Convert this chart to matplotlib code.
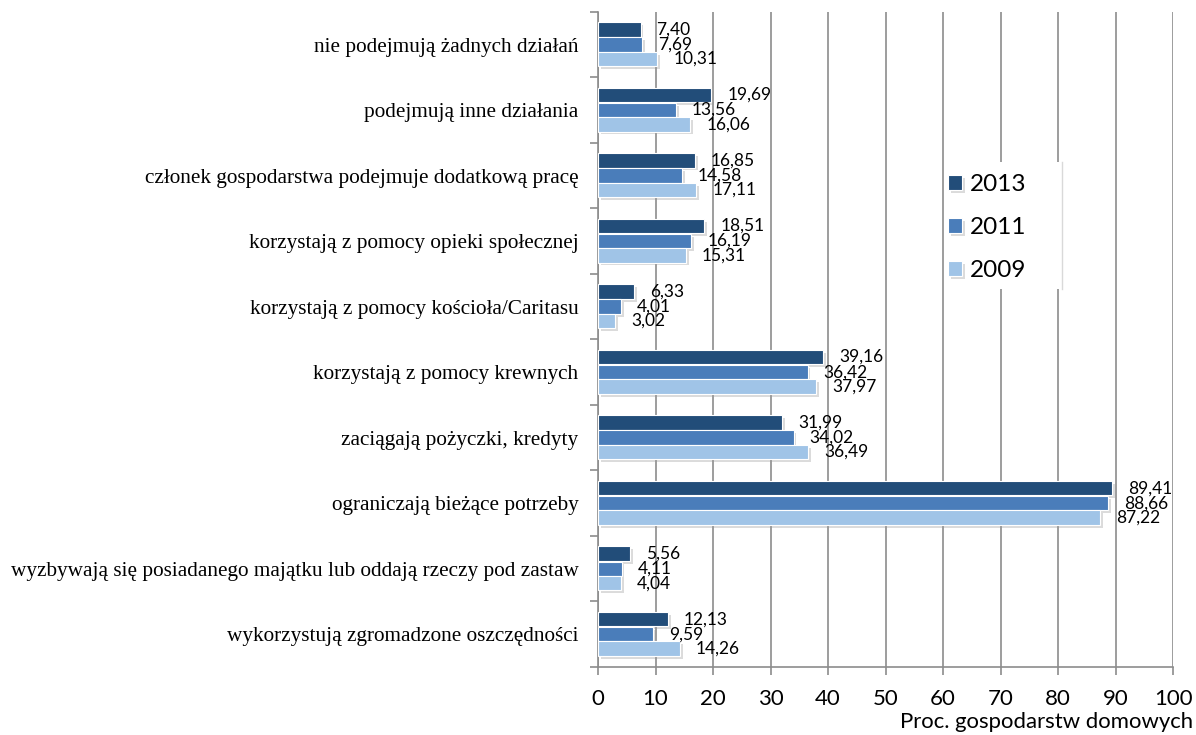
import matplotlib
matplotlib.use("Agg")
import matplotlib.pyplot as plt
import matplotlib.patheffects as pe
from matplotlib.patches import Rectangle
import numpy as np

categories = [
    "nie podejmują żadnych działań",
    "podejmują inne działania",
    "członek gospodarstwa podejmuje dodatkową pracę",
    "korzystają z pomocy opieki społecznej",
    "korzystają z pomocy kościoła/Caritasu",
    "korzystają z pomocy krewnych",
    "zaciągają pożyczki, kredyty",
    "ograniczają bieżące potrzeby",
    "wyzbywają się posiadanego majątku lub oddają rzeczy pod zastaw",
    "wykorzystują zgromadzone oszczędności",
]
series_names = ["2013", "2011", "2009"]
v2013 = [7.40, 19.69, 16.85, 18.51, 6.33, 39.16, 31.99, 89.41, 5.56, 12.13]
v2011 = [7.69, 13.56, 14.58, 16.19, 4.01, 36.42, 34.02, 88.66, 4.11, 9.59]
v2009 = [10.31, 16.06, 17.11, 15.31, 3.02, 37.97, 36.49, 87.22, 4.04, 14.26]
xticks = [0, 10, 20, 30, 40, 50, 60, 70, 80, 90, 100]
xlabel = "Proc. gospodarstw domowych"

colors = ["#224d79", "#4a7dba", "#a0c4e7"]
series = [v2013, v2011, v2009]

fig = plt.figure(figsize=(11.96, 7.35), dpi=100)
ax = fig.add_axes([0.5, 0.0925, 0.481, 0.8915])

y = np.arange(len(categories))
h = 0.22
offsets = [-0.23, 0.0, 0.22]
shadow = [pe.SimplePatchShadow(offset=(2, -2), shadow_rgbFace="#999999", alpha=0.35), pe.Normal()]
for s, (vals, off, col, name) in enumerate(zip(series, offsets, colors, series_names)):
    bars = ax.barh(y + off, vals, height=h, color=col, edgecolor="white", linewidth=0.8,
                   label=name, zorder=3)
    for b in bars:
        b.set_path_effects(shadow)
    for yi, v in zip(y + off, vals):
        ax.annotate(f"{v:.2f}".replace(".", ","), xy=(v, yi), xytext=(16, 0),
                    textcoords="offset pixels", va="center", ha="left",
                    fontsize=12.5, family="Lato", color="black", zorder=4)

ax.set_xlim(0, 100)
ax.set_ylim(len(categories) - 0.5, -0.5)
ax.set_xticks(xticks)
ax.set_xticklabels([str(t) for t in xticks], family="Lato", fontsize=16)
ax.xaxis.grid(True, color="#8c8c8c", linewidth=1.2, zorder=0)
ax.set_axisbelow(True)

ax.set_yticks(y)
ax.set_yticklabels(categories, family="Liberation Serif", fontsize=15.3)
ax.set_yticks(np.arange(-0.5, len(categories)), minor=True)
ax.tick_params(axis="y", which="major", length=0, pad=14)
ax.tick_params(axis="y", which="minor", length=6, color="#8c8c8c", width=1.2)
ax.tick_params(axis="x", which="major", length=6, color="#8c8c8c", width=1.2, pad=10)

for side in ["top", "right"]:
    ax.spines[side].set_visible(False)
ax.spines["left"].set_color("#8c8c8c")
ax.spines["left"].set_linewidth(1.2)
ax.spines["bottom"].set_color("#8c8c8c")
ax.spines["bottom"].set_linewidth(1.2)

fig.text(0.9975, 0.004, xlabel, ha="right", va="bottom", family="Lato", fontsize=15.9)

# legend background box
ax.add_patch(Rectangle((0.6017, 0.577), 0.2053, 0.194, transform=ax.transAxes,
                       facecolor="white", edgecolor="none", zorder=5))
ax.plot([0.807, 0.807], [0.577, 0.771], transform=ax.transAxes, color="#d9d9d9",
        linewidth=1, zorder=6)

leg = ax.legend(loc="upper left", bbox_to_anchor=(0.6087, 0.752), frameon=False,
                prop={"family": "Lato", "size": 17.5}, handlelength=0.58, handleheight=0.58,
                labelspacing=0.9, borderpad=0, borderaxespad=0, handletextpad=0.3)
leg.set_zorder(7)

fig.savefig("out.png", dpi=100)
